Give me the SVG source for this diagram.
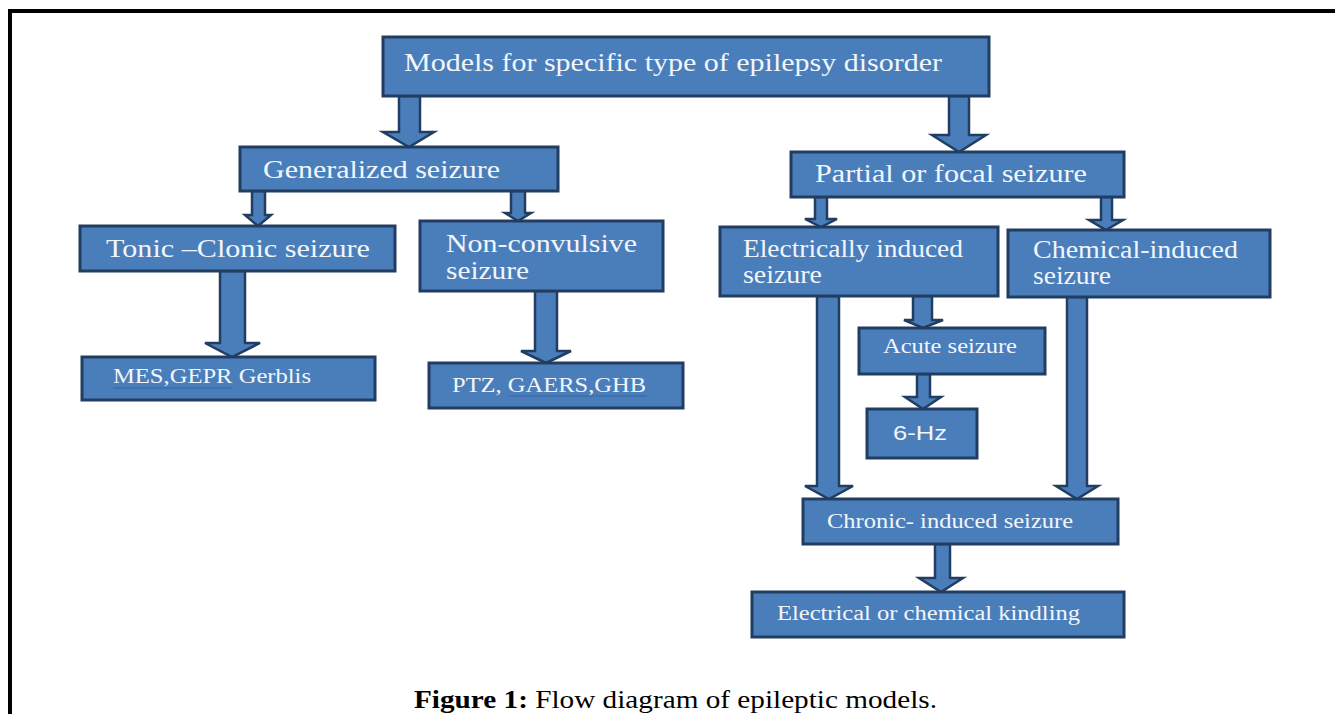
<svg xmlns="http://www.w3.org/2000/svg" width="1335" height="714" viewBox="0 0 1335 714">
<style>
.box{fill:#4a7ebb;stroke:#223d62;stroke-width:3}
.arr{fill:#4a7ebb;stroke:#223d62;stroke-width:2.5;stroke-linejoin:miter}
.t{font-family:"Liberation Serif","Times New Roman",serif;font-size:25px;fill:#f2f5fa}
.s{font-family:"Liberation Serif","Times New Roman",serif;font-size:20.5px;fill:#f2f5fa}
.sans{font-family:"Liberation Sans",Arial,sans-serif;font-size:21px;fill:#f2f5fa}
.ul{stroke:#3a64a8;stroke-width:1.2}
.cap{font-family:"Liberation Serif","Times New Roman",serif;font-size:26px;fill:#000}
</style>
<rect x="0" y="0" width="1335" height="714" fill="#fff"/>
<g id="frame">
<line x1="8" y1="11" x2="1335" y2="11" stroke="#000" stroke-width="4"/>
<line x1="10" y1="9" x2="10" y2="714" stroke="#000" stroke-width="4"/>
</g>
<g id="connectors">
<polygon class="arr" points="399,96 420,96 420,132 434,132 409,147 383,132 399,132"/>
<polygon class="arr" points="949,96 969,96 969,135 986,135 959,152 932,135 949,135"/>
<polygon class="arr" points="252,191 265,191 265,215 271,215 258,226 245,215 252,215"/>
<polygon class="arr" points="511,191 525,191 525,213 531,213 518,221 505,213 511,213"/>
<polygon class="arr" points="815,197 827,197 827,219 837,219 821,227 805,219 815,219"/>
<polygon class="arr" points="1101,197 1112,197 1112,220 1123,220 1106,230 1089,220 1101,220"/>
<polygon class="arr" points="220,271 245,271 245,343 260,343 232,357 205,343 220,343"/>
<polygon class="arr" points="535,291 557,291 557,351 571,351 546,363 521,351 535,351"/>
<polygon class="arr" points="817,296 839,296 839,486 853,486 829,499 805,486 817,486"/>
<polygon class="arr" points="913,296 932,296 932,320 943,320 923,328 904,320 913,320"/>
<polygon class="arr" points="917,374 930,374 930,397 941,397 923,409 905,397 917,397"/>
<polygon class="arr" points="1067,297 1087,297 1087,486 1098,486 1077,499 1056,486 1067,486"/>
<polygon class="arr" points="935,544 950,544 950,578 963,578 941,592 919,578 935,578"/>
</g>
<g id="n-top">
<rect class="box" x="383" y="37" width="606" height="59"/>
<text class="t" x="404" y="71" textLength="538" lengthAdjust="spacingAndGlyphs">Models for specific type of epilepsy disorder</text>
</g>
<g id="n-generalized">
<rect class="box" x="240" y="147" width="318" height="44"/>
<text class="t" x="263" y="178" textLength="237" lengthAdjust="spacingAndGlyphs">Generalized seizure</text>
</g>
<g id="n-partial">
<rect class="box" x="791" y="152" width="333" height="45"/>
<text class="t" x="815" y="182" textLength="272" lengthAdjust="spacingAndGlyphs">Partial or focal seizure</text>
</g>
<g id="n-tonic">
<rect class="box" x="80" y="226" width="315" height="45"/>
<text class="t" x="106" y="257" textLength="264" lengthAdjust="spacingAndGlyphs">Tonic –Clonic seizure</text>
</g>
<g id="n-nonconv">
<rect class="box" x="420" y="221" width="243" height="70"/>
<text class="t" x="446" y="252" textLength="191" lengthAdjust="spacingAndGlyphs">Non-convulsive</text>
<text class="t" x="446" y="279" textLength="83" lengthAdjust="spacingAndGlyphs">seizure</text>
</g>
<g id="n-electrical">
<rect class="box" x="720" y="227" width="278" height="69"/>
<text class="t" x="743" y="257" textLength="220" lengthAdjust="spacingAndGlyphs">Electrically induced</text>
<text class="t" x="743" y="283" textLength="79" lengthAdjust="spacingAndGlyphs">seizure</text>
</g>
<g id="n-chemical">
<rect class="box" x="1008" y="230" width="262" height="67"/>
<text class="t" x="1033" y="258" textLength="205" lengthAdjust="spacingAndGlyphs">Chemical-induced</text>
<text class="t" x="1033" y="284" textLength="78" lengthAdjust="spacingAndGlyphs">seizure</text>
</g>
<g id="n-mes">
<rect class="box" x="82" y="357" width="293" height="43"/>
<text class="s" x="113" y="383" textLength="198" lengthAdjust="spacingAndGlyphs">MES,GEPR Gerblis</text>
<line class="ul" x1="113" y1="388" x2="232" y2="388"/>
</g>
<g id="n-ptz">
<rect class="box" x="429" y="363" width="254" height="45"/>
<text class="s" x="452" y="392" textLength="194" lengthAdjust="spacingAndGlyphs">PTZ, GAERS,GHB</text>
<line class="ul" x1="508" y1="396" x2="647" y2="396"/>
</g>
<g id="n-acute">
<rect class="box" x="859" y="328" width="186" height="46"/>
<text class="s" x="883" y="353" textLength="134" lengthAdjust="spacingAndGlyphs">Acute seizure</text>
</g>
<g id="n-6hz">
<rect class="box" x="867" y="409" width="110" height="49"/>
<text class="sans" x="893" y="440" textLength="54" lengthAdjust="spacingAndGlyphs">6-Hz</text>
</g>
<g id="n-chronic">
<rect class="box" x="803" y="499" width="315" height="45"/>
<text class="s" x="827" y="528" textLength="246" lengthAdjust="spacingAndGlyphs">Chronic- induced seizure</text>
</g>
<g id="n-kindling">
<rect class="box" x="752" y="592" width="372" height="45"/>
<text class="s" x="777" y="620" textLength="303" lengthAdjust="spacingAndGlyphs">Electrical or chemical kindling</text>
</g>
<g id="caption">
<text class="cap" x="414" y="708" textLength="523" lengthAdjust="spacingAndGlyphs"><tspan font-weight="bold">Figure 1:</tspan> Flow diagram of epileptic models.</text>
</g>
</svg>
